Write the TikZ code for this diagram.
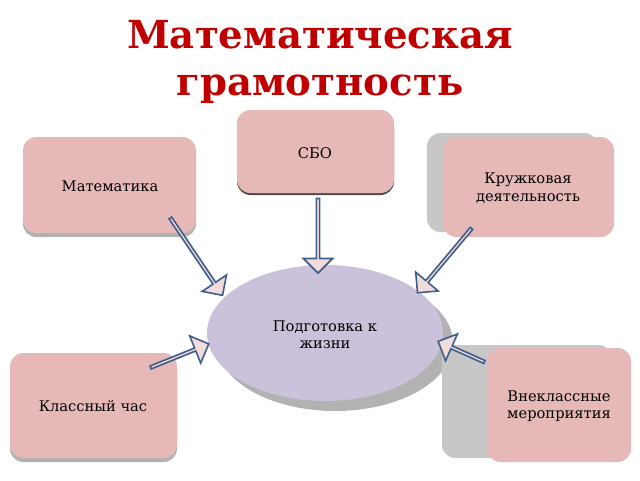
\documentclass[tikz,border=0pt]{standalone}
\usepackage{fontspec}
\setmainfont{DejaVu Serif}
\usetikzlibrary{shapes.arrows,shapes.geometric}
\definecolor{boxpink}{HTML}{E6B9B8}
\definecolor{arrfill}{HTML}{F2DCDB}
\definecolor{arrline}{HTML}{3F5F8A}
\definecolor{ell}{HTML}{CCC1DA}
\definecolor{titlered}{HTML}{C00000}
\tikzset{
  pbox/.style={fill=boxpink,rounded corners=10pt,draw=none},
  sbox/.style={fill=black!22,rounded corners=10pt,draw=none},
  lbl/.style={font=\fontsize{11}{13}\selectfont,align=center,text=black},
  barrow/.style={single arrow,draw=arrline,fill=arrfill,line width=1.2pt,inner sep=0pt,
    minimum width=22pt,single arrow head extend=5pt,single arrow head indent=0pt}
}
\begin{document}
\begin{tikzpicture}[x=0.75pt,y=-0.75pt]
\useasboundingbox (0,0) rectangle (640,480);
\node[font=\bfseries\fontsize{29}{35}\selectfont,text=titlered,align=center] (title) at (320,62) {Математическая\\грамотность};
% СБО
\fill[black!70,rounded corners=10pt] (237,112) rectangle (394,195);
\fill[pbox] (237,110) rectangle (394,193);
\node[lbl] (sbo) at (315,153) {СБО};
% Математика
\fill[black!30,rounded corners=10pt] (23,140) rectangle (196,237);
\fill[pbox] (23,137) rectangle (196,233);
\node[lbl] (mat) at (110,186) {Математика};
% Кружковая
\fill[sbox] (427,133) rectangle (598,232);
\fill[pbox] (443,137) rectangle (614,237);
\node[lbl] (kr) at (528,188) {Кружковая\\деятельность};
% ellipse
\fill[black!30] (335,343) ellipse [x radius=118,y radius=68];
\fill[ell] (325,333) ellipse [x radius=118,y radius=68];
\node[lbl] (life) at (325,335) {Подготовка к\\жизни};
% Классный час
\fill[black!30,rounded corners=10pt] (10,356) rectangle (177,462);
\fill[pbox] (10,353) rectangle (177,458);
\node[lbl] (kl) at (93,406) {Классный час};
% Внеклассные
\fill[sbox] (442,345) rectangle (612,458);
\fill[pbox] (487,348) rectangle (631,462);
\node[lbl] (vn) at (559,406) {Внеклассные\\мероприятия};
% arrows
\node[barrow,minimum height=56pt,rotate=-90] (a1) at (318,235) {};
\node[barrow,minimum height=70pt,rotate=-56] (a2) at (196,256) {};
\node[barrow,minimum height=63pt,rotate=-130] (a3) at (445,260) {};
\node[barrow,minimum height=47pt,rotate=22] (a4) at (179,356) {};
\node[barrow,minimum height=38pt,rotate=156] (a5) at (462,352) {};
\end{tikzpicture}
\end{document}
